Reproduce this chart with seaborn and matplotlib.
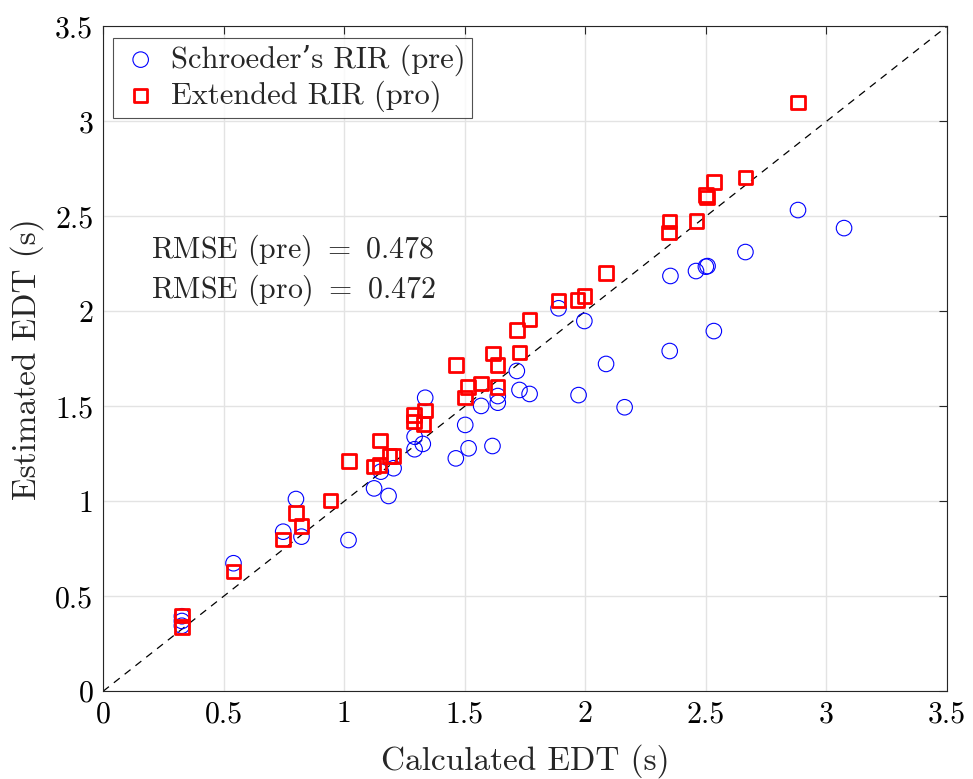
import matplotlib
matplotlib.use("Agg")
import matplotlib.pyplot as plt
import seaborn as sns
import pandas as pd

# Early decay time: calculated vs. estimated (seconds)
pre_calc = [0.327, 0.327, 0.327, 0.541, 0.747, 0.800, 0.823, 1.018, 1.124, 1.152,
            1.184, 1.205, 1.292, 1.292, 1.326, 1.336, 1.463, 1.502, 1.516, 1.568,
            1.615, 1.637, 1.637, 1.716, 1.727, 1.769, 1.889, 1.972, 1.996, 2.086,
            2.163, 2.350, 2.353, 2.459, 2.500, 2.507, 2.533, 2.664, 2.882, 3.073]
pre_est = [0.395, 0.370, 0.345, 0.674, 0.840, 1.012, 0.814, 0.796, 1.068, 1.156,
           1.028, 1.174, 1.274, 1.340, 1.302, 1.545, 1.226, 1.402, 1.279, 1.502,
           1.291, 1.519, 1.554, 1.686, 1.586, 1.565, 2.016, 1.559, 1.949, 1.723,
           1.495, 1.791, 2.186, 2.212, 2.235, 2.238, 1.896, 2.312, 2.533, 2.438]

pro_calc = [0.327, 0.327, 0.541, 0.747, 0.800, 0.823, 0.943, 1.020, 1.122, 1.147,
            1.149, 1.188, 1.205, 1.290, 1.290, 1.329, 1.336, 1.463, 1.502, 1.513,
            1.568, 1.617, 1.636, 1.636, 1.717, 1.727, 1.769, 1.889, 1.968, 1.996,
            2.086, 2.346, 2.350, 2.461, 2.500, 2.505, 2.533, 2.664, 2.882]
pro_est = [0.400, 0.337, 0.630, 0.800, 0.937, 0.870, 1.005, 1.212, 1.182, 1.191,
           1.319, 1.238, 1.238, 1.454, 1.419, 1.407, 1.477, 1.717, 1.547, 1.603,
           1.621, 1.779, 1.717, 1.603, 1.902, 1.784, 1.958, 2.056, 2.059, 2.080,
           2.203, 2.414, 2.472, 2.475, 2.612, 2.600, 2.680, 2.705, 3.098]

ticks = [0, 0.5, 1, 1.5, 2, 2.5, 3, 3.5]
tick_labels = ["0", "0.5", "1", "1.5", "2", "2.5", "3", "3.5"]
rmse_pre = 0.478
rmse_pro = 0.472

sns.set_style("white")
plt.rcParams["font.family"] = ["cmr10", "DejaVu Serif"]
plt.rcParams["mathtext.fontset"] = "cm"
plt.rcParams["axes.unicode_minus"] = False
plt.rcParams["axes.formatter.use_mathtext"] = True

fig = plt.figure(figsize=(9.73, 7.79), dpi=100)
ax = fig.add_axes([0.1059, 0.1126, 0.8674, 0.8536])

pre = pd.DataFrame({"calc": pre_calc, "est": pre_est})
pro = pd.DataFrame({"calc": pro_calc, "est": pro_est})
diag = pd.DataFrame({"x": [0, 3.5], "y": [0, 3.5]})

ax.grid(True, color="#e3e3e3", linewidth=1.0, zorder=0)
ax.set_axisbelow(True)

sns.lineplot(data=diag, x="x", y="y", ax=ax, color="black", linewidth=0.9,
             linestyle=(0, (6, 5)), zorder=2, legend=False)
sns.scatterplot(data=pre, x="calc", y="est", ax=ax, marker="o", s=125,
                facecolors="none", edgecolor="#0000ff", linewidth=0.8,
                label="Schroeder\u2019s RIR (pre)", zorder=3)
sns.scatterplot(data=pro, x="calc", y="est", ax=ax, marker="s", s=95,
                facecolors="none", edgecolor="#ff0000", linewidth=2.0,
                label="Extended RIR (pro)", zorder=4)

ax.set_xlim(0, 3.5)
ax.set_ylim(0, 3.5)
ax.set_xticks(ticks)
ax.set_xticklabels(tick_labels)
ax.set_yticks(ticks)
ax.set_yticklabels(tick_labels)
ax.tick_params(direction="in", length=6, width=0.8, top=True, right=True,
               labelsize=21.5, colors="#262626", labelcolor="black", pad=7)
for sp in ax.spines.values():
    sp.set_visible(True)
    sp.set_color("#262626")
    sp.set_linewidth(0.8)

ax.set_xlabel("Calculated EDT (s)", fontsize=24, labelpad=11)
ax.set_ylabel("Estimated EDT (s)", fontsize=24, labelpad=8)

ax.text(0.2, 2.32, f"RMSE (pre) $=$ {rmse_pre:.3f}", fontsize=21.5, va="center")
ax.text(0.2, 2.11, f"RMSE (pro) $=$ {rmse_pro:.3f}", fontsize=21.5, va="center")

leg = ax.legend(loc="upper left", bbox_to_anchor=(0.012, 0.982), fontsize=22,
                frameon=True, fancybox=False, edgecolor="#262626",
                borderpad=0.2, handletextpad=0.3, labelspacing=0.15,
                handlelength=1.4, borderaxespad=0)
leg.get_frame().set_linewidth(0.8)

fig.savefig("out.png", dpi=100)
